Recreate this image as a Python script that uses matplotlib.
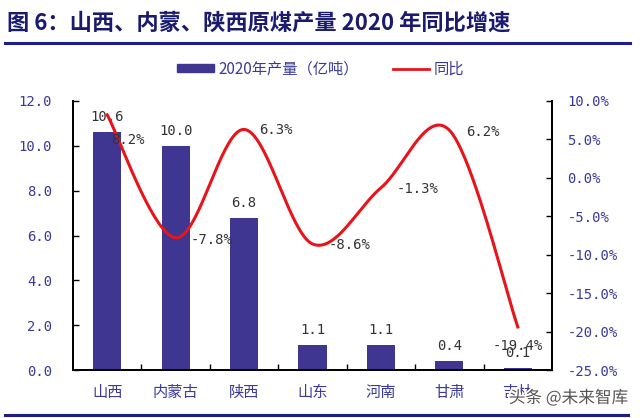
import numpy as np
import matplotlib
matplotlib.use("Agg")
import matplotlib.pyplot as plt
from matplotlib.lines import Line2D
from matplotlib.patches import Patch
import matplotlib.patheffects as pe

plt.rcParams['font.family'] = ['Noto Sans CJK SC', 'DejaVu Sans']

categories = ['山西', '内蒙古', '陕西', '山东', '河南', '甘肃', '吉林']
output = [10.6, 10.0, 6.8, 1.1, 1.1, 0.4, 0.1]
yoy = [8.2, -7.8, 6.3, -8.6, -1.3, 6.2, -19.4]
left_ticks = [0, 2, 4, 6, 8, 10, 12]
right_ticks = [-25, -20, -15, -10, -5, 0, 5, 10]

bar_color = '#3F3691'
label_color = '#3A3A9A'
text_color = '#333333'
num_font = ['DejaVu Sans Mono', 'DejaVu Sans']

fig = plt.figure(figsize=(6.4, 4.18), dpi=100)
ax = fig.add_axes([73/640, 1-370/418, (552-73)/640, (370-101)/418])
x = np.arange(len(categories))
ax.bar(x, output, width=0.41, color=bar_color, zorder=2)
ax.set_xlim(-0.5, len(categories)-0.5)
ax.set_ylim(0, 12)
ax.set_yticks(left_ticks)
ax.set_yticklabels([f'{v:.1f}' for v in left_ticks], color=label_color, fontsize=10,
                   family=num_font)
ax.set_xticks(x)
ax.set_xticklabels(categories, color=label_color, fontsize=11)
ax.set_xticks(np.arange(0.5, len(categories)-0.5, 1), minor=True)
ax.tick_params(axis='x', which='major', length=0, pad=10)
ax.tick_params(axis='x', which='minor', direction='in', length=4, width=1)
ax.tick_params(axis='y', direction='in', length=4, width=1, pad=15)
ax.spines['top'].set_visible(False)
for s in ['left', 'bottom', 'right']:
    ax.spines[s].set_linewidth(1.3)
    ax.spines[s].set_color('black')

for xi, v in zip(x, output):
    ax.annotate(f'{v:.1f}', (xi, v), xytext=(0, 8), textcoords='offset pixels',
                ha='center', va='bottom', fontsize=10, color=text_color, family=num_font)

ax2 = ax.twinx()
ax2.set_ylim(-25, 10)
ax2.set_yticks(right_ticks)
ax2.set_yticklabels([f'{v:.1f}%' for v in right_ticks], color=label_color, fontsize=10,
                    family=num_font)
ax2.tick_params(axis='y', direction='in', length=4, width=1, pad=11)
ax2.spines['top'].set_visible(False)
for s in ['left', 'bottom', 'right']:
    ax2.spines[s].set_linewidth(1.3)

# Catmull-Rom smoothing (Excel-style smoothed line)
px = np.array(x, dtype=float)
py = np.array(yoy, dtype=float)
P = np.vstack([px, py]).T
Pext = np.vstack([P[0], P, P[-1]])
xs, ys = [], []
t = np.linspace(0, 1, 40)
for i in range(len(P)-1):
    p0, p1, p2, p3 = Pext[i], Pext[i+1], Pext[i+2], Pext[i+3]
    c1 = p1 + (p2 - p0) / 6
    c2 = p2 - (p3 - p1) / 6
    seg = ((1-t)**3)[:, None]*p1 + (3*(1-t)**2*t)[:, None]*c1 + (3*(1-t)*t**2)[:, None]*c2 + (t**3)[:, None]*p2
    xs.extend(seg[:, 0]); ys.extend(seg[:, 1])
ax2.plot(xs, ys, color='#E8141B', lw=2.2, zorder=3)

offsets = [(4, -25, 'left'), (15, -2, 'left'), (15, -1, 'left'), (16, -1, 'left'),
           (16, -1, 'left'), (17, -2, 'left'), (0, -19, 'center')]
for xi, v, (dx, dy, ha) in zip(x, yoy, offsets):
    ax2.annotate(f'{v:.1f}%', (xi, v), xytext=(dx, dy), textcoords='offset pixels',
                 ha=ha, va='center', fontsize=10, color=text_color, zorder=4,
                 family=num_font)

# Title and decorations
fig.text(7/640, 1-23/418, '图 6：山西、内蒙、陕西原煤产量 2020 年同比增速', fontsize=16,
         fontweight='bold', color='#1A1A6E', ha='left', va='center')
fig.add_artist(Line2D([5/640, 630/640], [1-43/418, 1-43/418], color='#1E1E8A', lw=2.2))
fig.add_artist(Line2D([5/640, 628/640], [1-415/418, 1-415/418], color='#1E1E8A', lw=2.2))

handles = [Patch(color=bar_color), Line2D([0], [0], color='#E8141B', lw=2)]
fig.legend(handles, ['2020年产量（亿吨）', '同比'], loc='center', bbox_to_anchor=(321/640, 1-69/418),
           ncol=2, frameon=False, fontsize=11, handlelength=2.4, handleheight=0.5,
           handletextpad=0.3, columnspacing=2.2, labelcolor=label_color)

wm = fig.text(628/640, 1-398/418, '头条 @未来智库', fontsize=12, color='#555555',
              ha='right', va='center')
wm.set_path_effects([pe.withStroke(linewidth=2.5, foreground='white')])

fig.savefig('out.png', dpi=100)
